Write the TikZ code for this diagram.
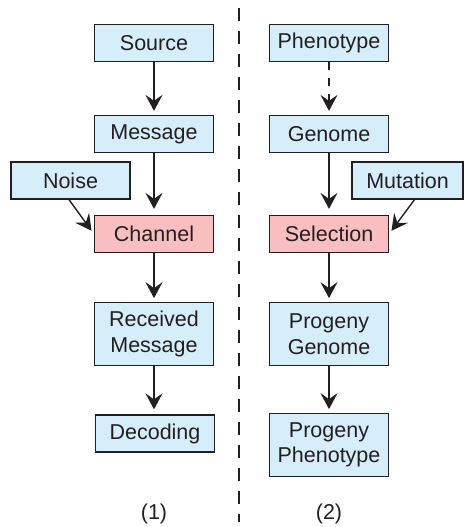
\documentclass[tikz,border=0pt]{standalone}
\usepackage{fontspec}
\setmainfont{Liberation Sans}
\usetikzlibrary{arrows.meta}
\definecolor{boxblue}{RGB}{214,238,250}
\definecolor{boxred}{RGB}{248,190,192}
\definecolor{ink}{RGB}{35,31,32}
\begin{document}
\begin{tikzpicture}[x=1pt,y=-1pt,
 box/.style={draw=ink, line width=1.2pt, fill=boxblue, minimum width=119pt, minimum height=37pt, inner sep=0pt, align=center, font=\fontsize{21.5}{25.5}\selectfont, text=ink},
 redbox/.style={box, fill=boxred},
 tallbox/.style={box, minimum height=62.5pt},
 arr/.style={draw=ink, line width=1.4pt, -{Stealth[length=16pt,width=17pt,inset=6pt]}, shorten >=4pt},
 lbl/.style={font=\fontsize{21.5}{25.5}\selectfont, text=ink}]
\useasboundingbox (0,0) rectangle (463,527);
\fill[white] (0,0) rectangle (463,527);
% divider
\draw[ink, line width=1.3pt, dash pattern=on 13pt off 10pt] (239,8) -- (239,522);
% left column
\node[box] (source) at (154,43) {Source};
\node[box] (message) at (154,134) {Message};
\node[box] (noise) at (70.5,180.5) {Noise};
\node[redbox] (channel) at (154,234) {Channel};
\node[tallbox] (received) at (154,334) {Received\\Message};
\node[box] (decoding) at (155,433.5) {Decoding};
\node[lbl] (l1) at (154,514) {(1)};
% right column
\node[box] (phenotype) at (329,43) {Phenotype};
\node[box] (genome) at (329,134) {Genome};
\node[box, minimum width=111pt] (mutation) at (407.5,180.5) {Mutation};
\node[redbox] (selection) at (329,234) {Selection};
\node[tallbox] (pgenome) at (329,334) {Progeny\\Genome};
\node[tallbox] (pphenotype) at (329,445) {Progeny\\Phenotype};
\node[lbl] (l2) at (329,514) {(2)};
% arrows
\draw[arr] (source) -- (message);
\draw[arr, shorten >=6pt] (message) -- (channel);
\draw[arr] ([xshift=-1.5pt]noise.south) -- (channel.west);
\draw[arr] (channel) -- (received);
\draw[arr, shorten >=5pt] (received.south) -- (received.south |- decoding.north);
\draw[arr, dash pattern=on 8pt off 8pt] (phenotype) -- (genome);
\draw[arr, shorten >=6pt] (genome) -- (selection);
\draw[arr] ([xshift=7pt]mutation.south) -- (selection.east);
\draw[arr] (selection) -- (pgenome);
\draw[arr] (pgenome) -- (pphenotype);
\end{tikzpicture}
\end{document}
